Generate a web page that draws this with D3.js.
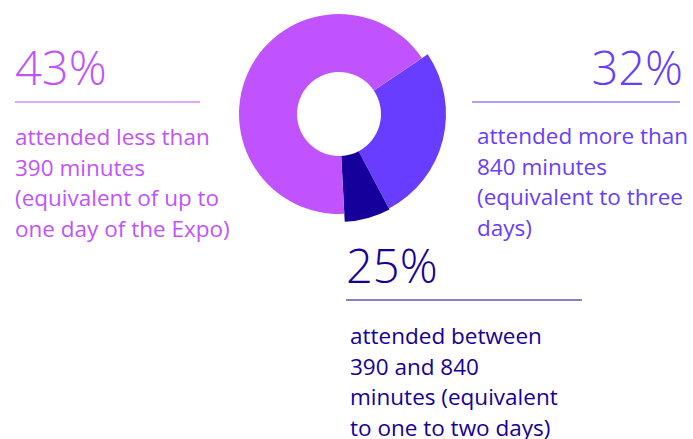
<!DOCTYPE html>
<html>
<head>
<meta charset="utf-8">
<script src="https://cdn.jsdelivr.net/npm/d3@7"></script>
<style>
  body { margin: 0; background: #fff; }
  text { font-family: "Open Sans", sans-serif; }
</style>
</head>
<body>
<svg id="chart" width="693" height="439"></svg>
<script>
const svg = d3.select("#chart");

// labels as printed
const groups = ["less", "more", "between"];
const percents = [43, 32, 25];
const colors = ["#c153ff", "#683dff", "#15009b"];
const descriptions = [
  ["attended less than", "390 minutes", "(equivalent of up to", "one day of the Expo)"],
  ["attended more than", "840 minutes", "(equivalent to three", "days)"],
  ["attended between", "390 and 840", "minutes (equivalent", "to one to two days)"]
];
// slice shares as drawn in the ring (order: more, between, less)
const sliceOrder = ["more", "between", "less"];
const sliceShare = [26.7, 6.9, 66.4];
const sliceRadius = [107, 108, 100];

const cx = 339, cy = 114;
const innerR = 42;

const pie = d3.pie()
  .sort(null)
  .value(d => d.share)
  .startAngle(56 * Math.PI / 180)
  .endAngle((56 + 360) * Math.PI / 180);

const slices = pie(sliceOrder.map((k, i) => ({ key: k, share: sliceShare[i], r: sliceRadius[i] })));

const arc = d3.arc()
  .innerRadius(innerR)
  .outerRadius(d => d.data.r);

const ring = svg.append("g").attr("transform", `translate(${cx},${cy})`);
ring.selectAll("path")
  .data(slices)
  .join("path")
  .attr("d", arc)
  .attr("fill", d => colors[groups.indexOf(d.data.key)]);

// label blocks
const blocks = [
  { x: 15, anchor: "start", pctY: 85, lineY: 102, x1: 15, x2: 200, textX: 15, textY: 145 },
  { x: 683, anchor: "end", pctY: 85, lineY: 102, x1: 472, x2: 680, textX: 477, textY: 144 },
  { x: 346, anchor: "start", pctY: 283, lineY: 300, x1: 346, x2: 582, textX: 350, textY: 344 }
];

groups.forEach((g, i) => {
  const b = blocks[i];
  const grp = svg.append("g").attr("fill", colors[i]);
  grp.append("text")
    .attr("x", b.x)
    .attr("y", b.pctY)
    .attr("text-anchor", b.anchor)
    .attr("font-size", 47)
    .attr("font-weight", 300)
    .text(percents[i] + "%");
  grp.append("line")
    .attr("x1", b.x1).attr("x2", b.x2)
    .attr("y1", b.lineY).attr("y2", b.lineY)
    .attr("stroke", colors[i])
    .attr("stroke-width", 1.2);
  grp.selectAll("text.desc")
    .data(descriptions[i])
    .join("text")
    .attr("class", "desc")
    .attr("x", b.textX)
    .attr("y", (d, j) => b.textY + j * 30.5)
    .attr("font-size", 22.5)
    .attr("font-weight", 400)
    .text(d => d);
});
</script>
</body>
</html>
